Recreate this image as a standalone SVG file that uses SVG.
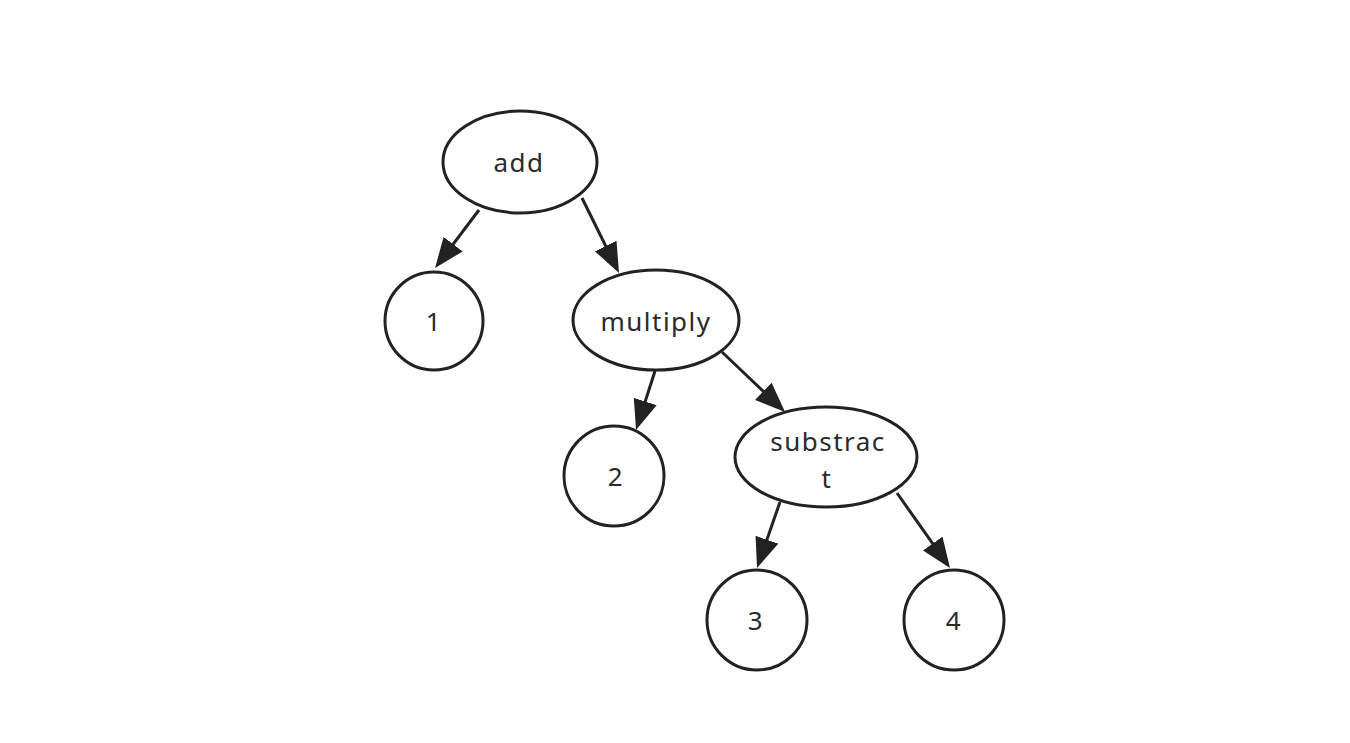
<svg xmlns="http://www.w3.org/2000/svg" width="1350" height="743" viewBox="0 0 1350 743">
<style>
.node ellipse,.node circle{fill:#fff;stroke:#222;stroke-width:3}
.node text{font-family:"Noto Sans","Noto Sans CJK SC",sans-serif;font-size:26px;letter-spacing:1.5px;fill:#2a2a2a;text-anchor:middle}
.edge{stroke:#222;stroke-width:3;fill:none;marker-end:url(#arrow)}
</style>
<defs>
<marker id="arrow" markerUnits="userSpaceOnUse" markerWidth="30" markerHeight="24" viewBox="0 0 30 24" refX="20" refY="12" orient="auto">
<path d="M0,0 L30,12 L0,24 z" fill="#222"/>
</marker>
</defs>
<rect width="1350" height="743" fill="#fff"/>
<g id="connectors">
<line class="edge" x1="479" y1="210" x2="441.1" y2="260.1"/>
<line class="edge" x1="582" y1="198" x2="614.6" y2="264"/>
<line class="edge" x1="655" y1="371" x2="639.1" y2="420.5"/>
<line class="edge" x1="722" y1="352" x2="777.8" y2="405.1"/>
<line class="edge" x1="780" y1="502" x2="760.3" y2="558.6"/>
<line class="edge" x1="897" y1="493" x2="944.2" y2="559.9"/>
</g>
<g id="add" class="node"><ellipse cx="520" cy="162" rx="77" ry="51"/><text x="519" y="172">add</text></g>
<g id="n1" class="node"><circle cx="434" cy="321" r="49"/><text x="434" y="331">1</text></g>
<g id="multiply" class="node"><ellipse cx="656" cy="320" rx="83" ry="50"/><text x="656" y="331">multiply</text></g>
<g id="n2" class="node"><circle cx="614" cy="476" r="50"/><text x="616" y="486">2</text></g>
<g id="substract" class="node"><ellipse cx="826" cy="457" rx="91" ry="50"/><text x="828" y="451">substrac</text><text x="827" y="488">t</text></g>
<g id="n3" class="node"><circle cx="757" cy="620" r="50"/><text x="756" y="630">3</text></g>
<g id="n4" class="node"><circle cx="954" cy="620" r="50"/><text x="954" y="630">4</text></g>
</svg>
